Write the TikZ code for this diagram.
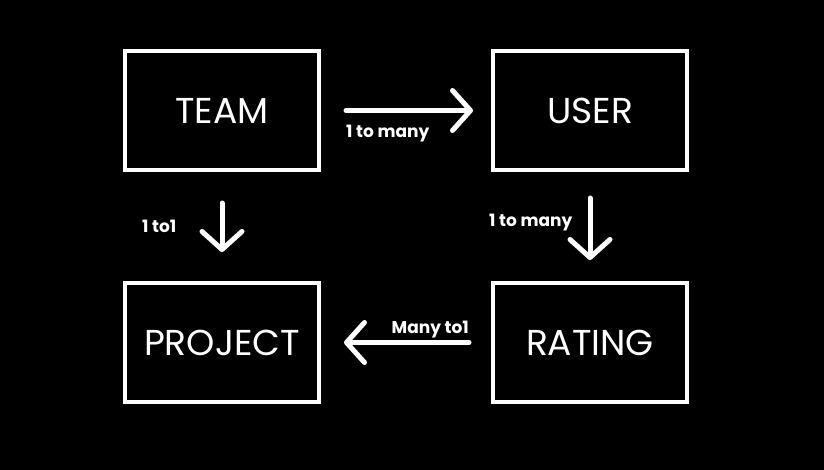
\documentclass[tikz,border=0pt]{standalone}
\usepackage{fontspec}
\setmainfont{Poppins}
\usetikzlibrary{arrows.meta}
\begin{document}
\begin{tikzpicture}[x=1pt,y=-1pt,
  entity/.style={draw=white, line width=4pt, minimum width=194pt, minimum height=119pt, outer sep=0pt, inner sep=0pt, text=white, font=\fontsize{36}{36}\selectfont},
  rel/.style={draw=white, line width=5pt, line cap=round, -{Straight Barb[length=18pt, width=40pt, line cap=round, line join=round]}},
  lbl/.style={text=white, font=\bfseries\fontsize{17}{17}\selectfont, inner sep=0pt}]
\fill[black] (0,0) rectangle (824,470);
\useasboundingbox (0,0) rectangle (824,470);
\node[entity] (team) at (222,110.5) {TEAM};
\node[entity] (user) at (590,110.5) {USER};
\node[entity] (project) at (222,342.5) {PROJECT};
\node[entity] (rating) at (590,342.5) {RATING};
\draw[rel, shorten <=27pt, shorten >=20pt] (team) -- (user);
\draw[rel, shorten <=33pt, shorten >=31pt] (team) -- (project);
\draw[rel, shorten <=28pt, shorten >=23pt] (user) -- (rating);
\draw[rel, shorten <=24pt, shorten >=25pt] (rating) -- (project);
\node[lbl, anchor=base west] (l1) at (346,138) {1 to many};
\node[lbl, anchor=base west] (l2) at (142,233) {1 to1};
\node[lbl, anchor=base west] (l3) at (489,227) {1 to many};
\node[lbl, anchor=base east] (l4) at (469,333) {Many to1};
\end{tikzpicture}
\end{document}
